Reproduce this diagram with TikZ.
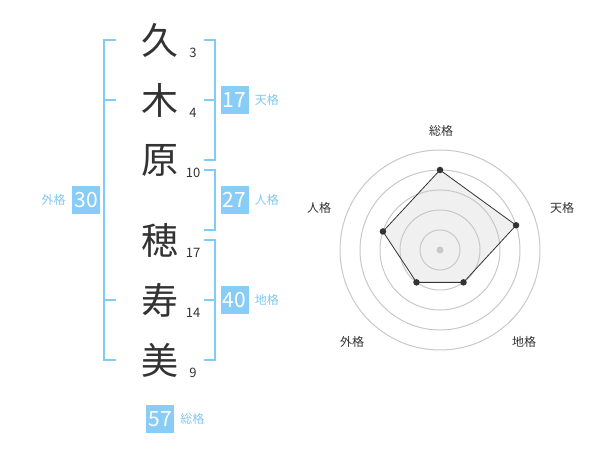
\documentclass[tikz,border=0pt]{standalone}
\usepackage{fontspec}
\setmainfont{Noto Sans CJK JP}
\usetikzlibrary{positioning}
\definecolor{barblue}{HTML}{80CCF8}
\definecolor{boxblue}{HTML}{88CCF8}
\definecolor{kakublue}{HTML}{80C8F0}
\definecolor{ink}{HTML}{333333}
\definecolor{ringgray}{HTML}{C8C8C8}
\definecolor{areagray}{HTML}{F0F0F0}

\begin{document}
\begin{tikzpicture}[x=1pt, y=-1pt,
	kanji/.style={font=\fontsize{37}{37}\selectfont, text=ink, inner sep=0pt},
	stroke/.style={font=\fontsize{13}{13}\selectfont, text=ink, inner sep=0pt},
	sumbox/.style={fill=boxblue, text=white, minimum width=28pt, minimum height=28pt, inner sep=0pt, font=\fontsize{21}{21}\selectfont},
	kaku/.style={font=\fontsize{12}{12}\selectfont, text=kakublue, inner sep=0pt},
	bracket/.style={draw=barblue, line width=2pt},
	ring/.style={draw=ringgray, line width=1pt},
	axis/.style={font=\fontsize{12}{12}\selectfont, text=ink, inner sep=0pt},
	dot/.style={circle, fill=ink, minimum size=6.5pt, inner sep=0pt}]
	\useasboundingbox (0,0) rectangle (600,470);
	% name
	\node (k1) [kanji] at (160, 40) {久};
	\node (k2) [kanji] at (160, 100) {木};
	\node (k3) [kanji] at (160, 160) {原};
	\node (k4) [kanji] at (160, 240) {穂};
	\node (k5) [kanji] at (160, 300) {寿};
	\node (k6) [kanji] at (160, 360) {美};
	\node (n1) [stroke] at (193, 53) {3};
	\node (n2) [stroke] at (193, 113) {4};
	\node (n3) [stroke] at (193, 173) {10};
	\node (n4) [stroke] at (193, 253) {17};
	\node (n5) [stroke] at (193, 313) {14};
	\node (n6) [stroke] at (193, 373) {9};
	% brackets
	\draw[bracket] (116, 40) -- (104, 40) -- (104, 360) -- (116, 360);
	\draw[bracket] (104, 100) -- (116, 100);
	\draw[bracket] (104, 300) -- (116, 300);
	\draw[bracket] (204, 40) -- (215, 40) -- (215, 160) -- (204, 160);
	\draw[bracket] (204, 100) -- (215, 100);
	\draw[bracket] (204, 170) -- (215, 170) -- (215, 230) -- (204, 230);
	\draw[bracket] (204, 240) -- (215, 240) -- (215, 360) -- (204, 360);
	\draw[bracket] (204, 300) -- (215, 300);
	% totals
	\node (ten) [sumbox] at (234.5, 100) {17};
	\node (jin) [sumbox] at (234.5, 200) {27};
	\node (chi) [sumbox] at (234.5, 300) {40};
	\node (gai) [sumbox] at (86, 200) {30};
	\node (sou) [sumbox] at (160, 419) {57};
	\node (tenL) [kaku, right=6pt of ten] {天格};
	\node (jinL) [kaku, right=6pt of jin] {人格};
	\node (chiL) [kaku, right=6pt of chi] {地格};
	\node (gaiL) [kaku, left=6pt of gai] {外格};
	\node (souL) [kaku, right=6pt of sou] {総格};
	% radar
	\begin{scope}[shift={(440, 250)}, y=1pt]
		\coordinate (rs) at (90:80);
		\coordinate (rt) at (18:80);
		\coordinate (rc) at (-54:40);
		\coordinate (rg) at (-126:40);
		\coordinate (rj) at (162:60);
		\fill[areagray] (rs) -- (rt) -- (rc) -- (rg) -- (rj) -- cycle;
		\foreach \r in {20, 40, 60, 80, 100}
			\draw[ring] (0, 0) circle (\r);
		\draw[ink, line width=0.8pt] (rs) -- (rt) -- (rc) -- (rg) -- (rj) -- cycle;
		\node (ctr) [circle, fill=ringgray, minimum size=7pt, inner sep=0pt] at (0, 0) {};
		\foreach \p in {rs, rt, rc, rg, rj}
			\node [dot] at (\p) {};
	\end{scope}
	\node (aS) [axis] at (441, 131) {総格};
	\node (aT) [axis] at (562, 208) {天格};
	\node (aJ) [axis] at (319, 208) {人格};
	\node (aG) [axis] at (352, 342) {外格};
	\node (aC) [axis] at (524, 342) {地格};
\end{tikzpicture}
\end{document}
